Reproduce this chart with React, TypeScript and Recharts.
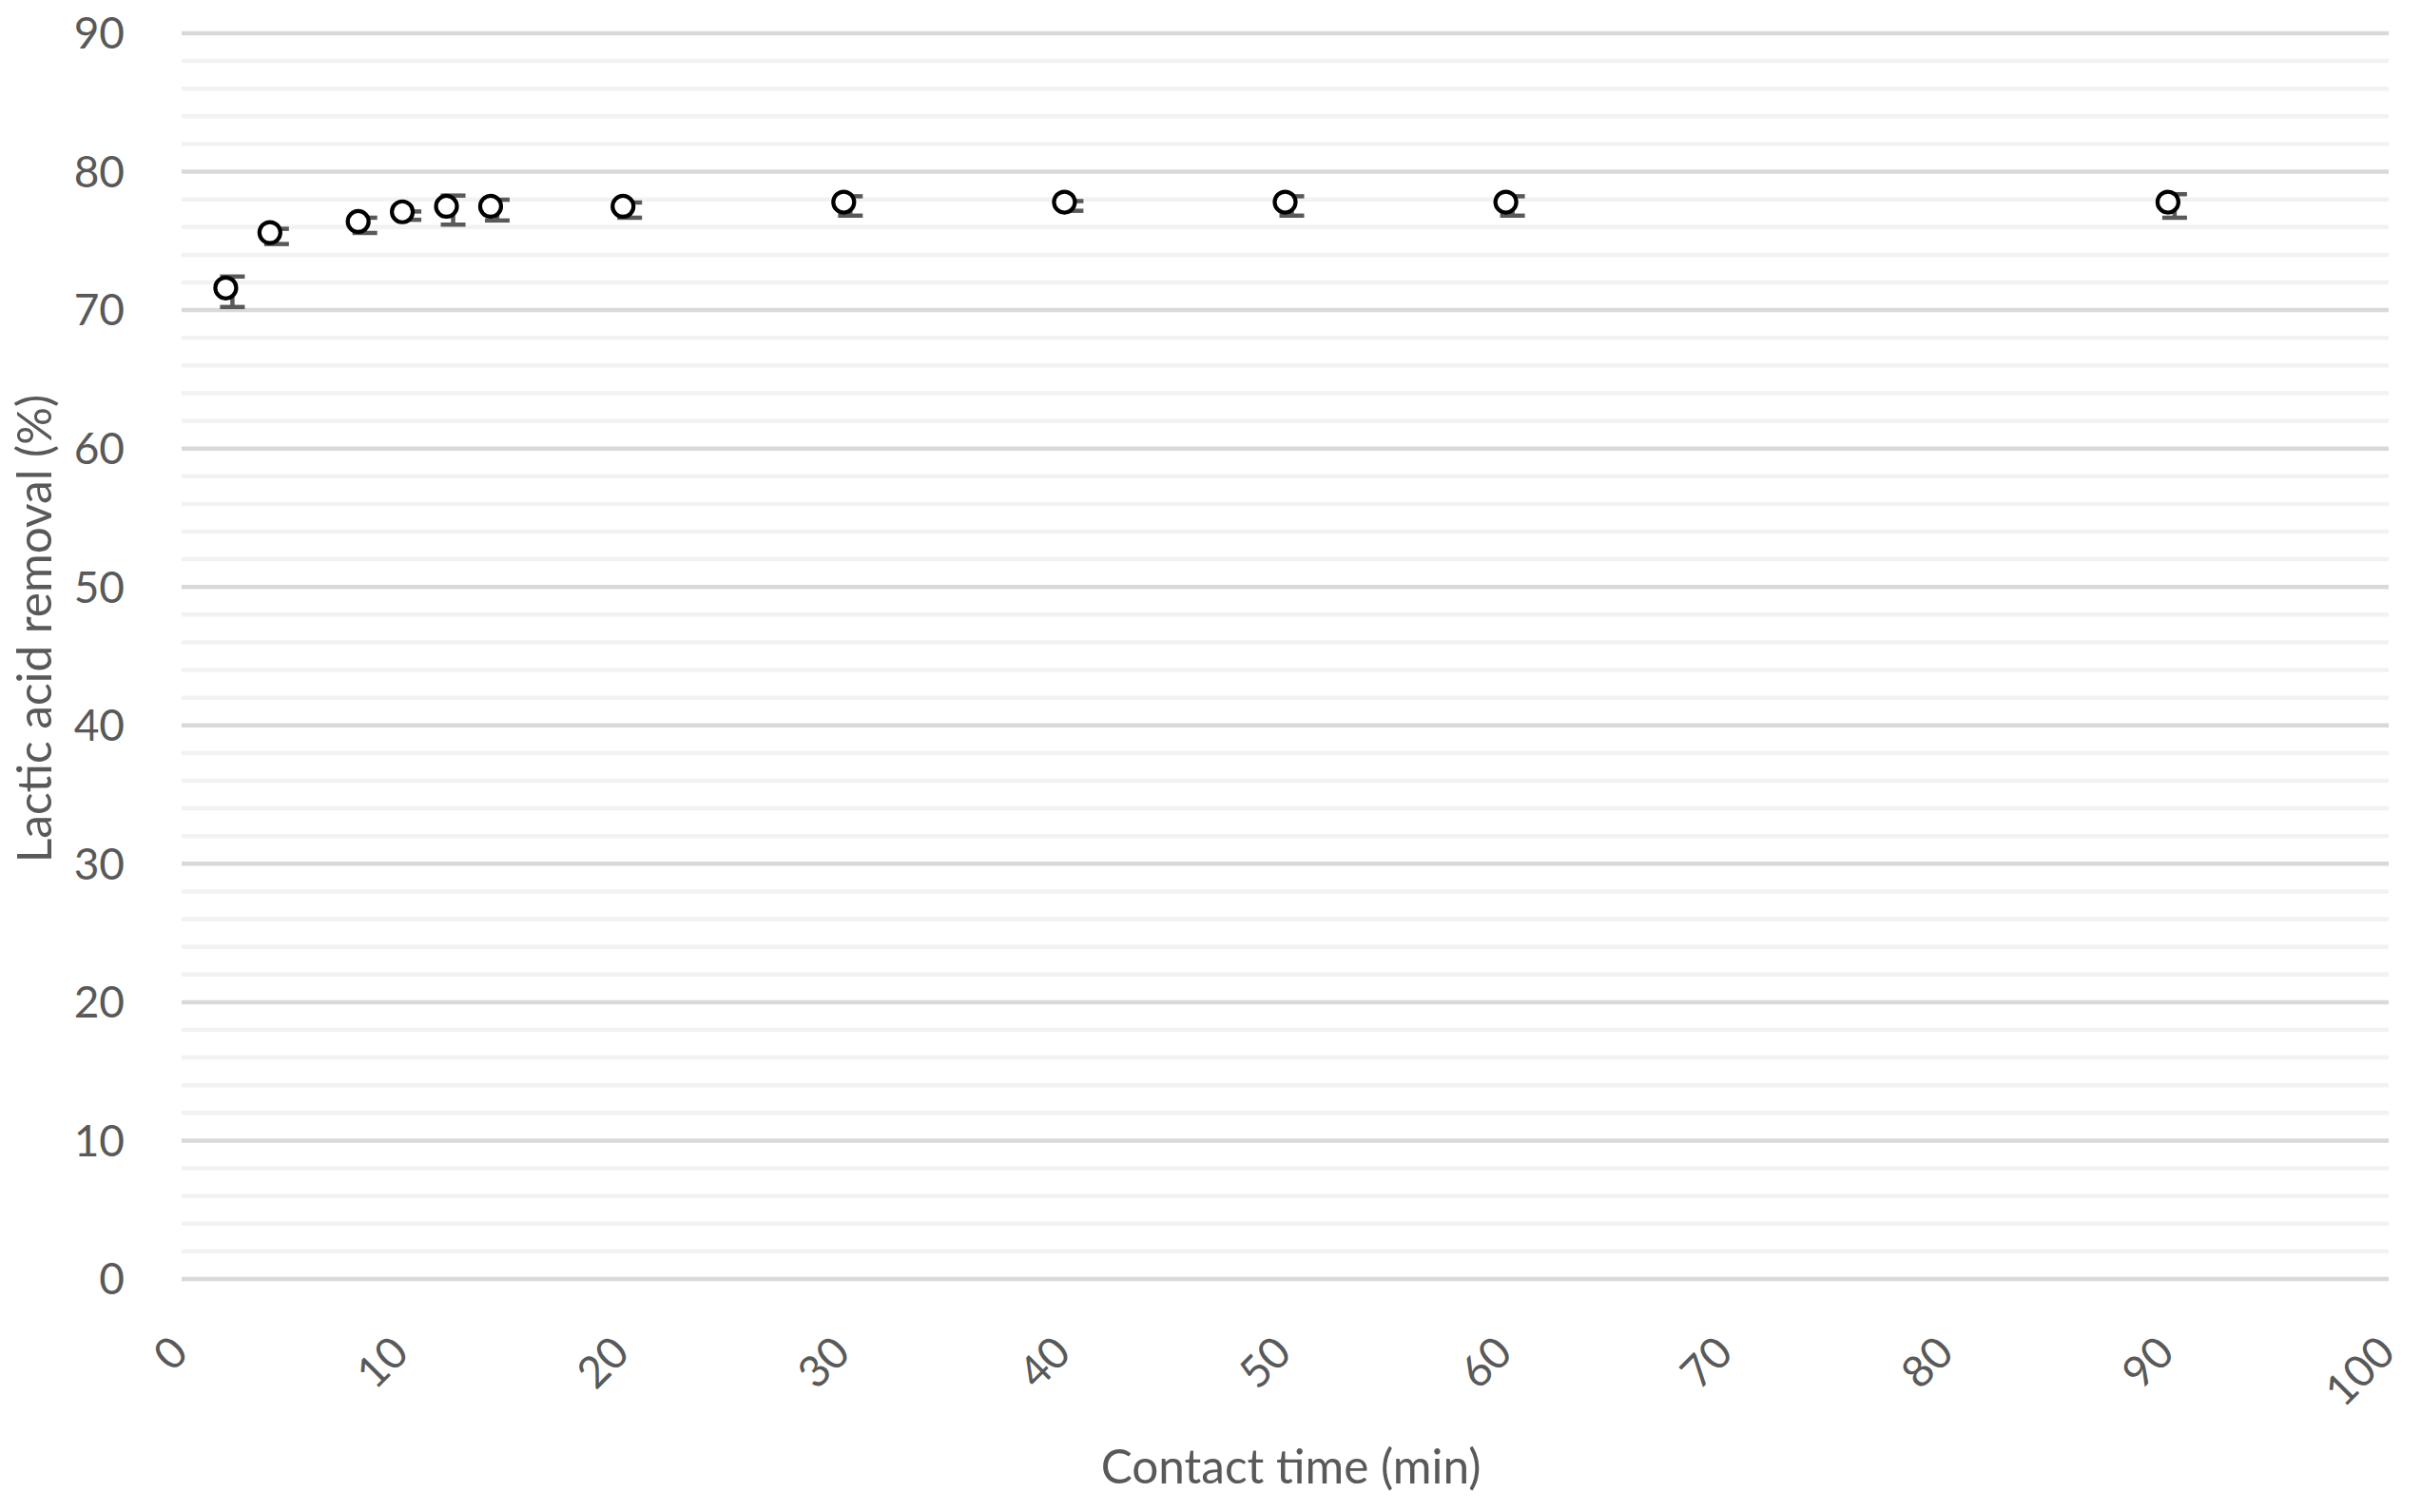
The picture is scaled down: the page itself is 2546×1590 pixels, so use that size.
import React from 'react';
import { ScatterChart, Scatter, XAxis, YAxis, CartesianGrid, ErrorBar } from 'recharts';

// contact time (min)
const contactTime = [2, 4, 8, 10, 12, 14, 20, 30, 40, 50, 60, 90];
// lactic acid removal (%)
const removal = [71.6, 75.6, 76.4, 77.1, 77.5, 77.5, 77.5, 77.8, 77.8, 77.8, 77.8, 77.8];
// standard deviation
const sd = [1.1, 0.55, 0.55, 0.3, 1.05, 0.75, 0.55, 0.7, 0.35, 0.7, 0.7, 0.85];

const xTicks = [0, 10, 20, 30, 40, 50, 60, 70, 80, 90, 100];
const yTicks = [0, 10, 20, 30, 40, 50, 60, 70, 80, 90];
const yMinor = [2, 4, 6, 8, 12, 14, 16, 18, 22, 24, 26, 28, 32, 34, 36, 38, 42, 44, 46, 48, 52, 54, 56, 58, 62, 64, 66, 68, 72, 74, 76, 78, 82, 84, 86, 88];

const data = contactTime.map((t, i) => ({ time: t, removal: removal[i], sd: sd[i] }));

const FONT = 'Lato, "Open Sans", sans-serif';
const TEXT = '#595959';

const XTick = (props: any) => {
  const { x, y, payload } = props;
  const px = x + 9;
  return (
    <text
      x={px}
      y={y}
      textAnchor="end"
      fill={TEXT}
      fontSize={46}
      fontFamily={FONT}
      transform={`rotate(-45, ${px}, ${y})`}
    >
      {payload.value}
    </text>
  );
};

const Marker = (props: any) => (
  <circle cx={props.cx} cy={props.cy} r={11} fill="#fff" stroke="#000" strokeWidth={4.2} />
);

export default function App() {
  return (
    <div style={{ width: 2546, height: 1590, background: '#fff' }}>
      <style>{`body{margin:0} .recharts-errorBar{transform:translate(7px,4px)}`}</style>
      <ScatterChart width={2546} height={1590} margin={{ top: 35, right: 34, bottom: 0, left: 0 }}>
        <CartesianGrid vertical={false} horizontalValues={yMinor} stroke="#f2f2f2" strokeWidth={4.5} />
        <CartesianGrid vertical={false} horizontalValues={yTicks} stroke="#d9d9d9" strokeWidth={4.5} />
        <XAxis
          type="number"
          dataKey="time"
          domain={[0, 100]}
          ticks={xTicks}
          interval={0}
          axisLine={false}
          tickLine={false}
          tickSize={0}
          tickMargin={80}
          height={245}
          tick={XTick}
          label={{
            content: ({ viewBox }: any) => (
              <text
                x={viewBox.x + viewBox.width / 2 + 6}
                y={viewBox.y + 215}
                textAnchor="middle"
                fill={TEXT}
                fontSize={49.5}
                fontFamily={FONT}
              >
                Contact time (min)
              </text>
            ),
          }}
        />
        <YAxis
          type="number"
          dataKey="removal"
          domain={[0, 90]}
          ticks={yTicks}
          interval={0}
          axisLine={false}
          tickLine={false}
          tickSize={0}
          tickMargin={60}
          width={191}
          tick={{ fill: TEXT, fontSize: 46, fontFamily: FONT }}
          label={{
            content: ({ viewBox }: any) => {
              const cx = 54;
              const cy = viewBox.y + viewBox.height / 2 - 29;
              return (
                <text
                  x={cx}
                  y={cy}
                  textAnchor="middle"
                  fill={TEXT}
                  fontSize={49.5}
                  fontFamily={FONT}
                  transform={`rotate(-90, ${cx}, ${cy})`}
                >
                  Lactic acid removal (%)
                </text>
              );
            },
          }}
        />
        <Scatter data={data} shape={Marker} isAnimationActive={false}>
          <ErrorBar dataKey="sd" direction="y" width={13} stroke={TEXT} strokeWidth={4.5} />
        </Scatter>
      </ScatterChart>
    </div>
  );
}
